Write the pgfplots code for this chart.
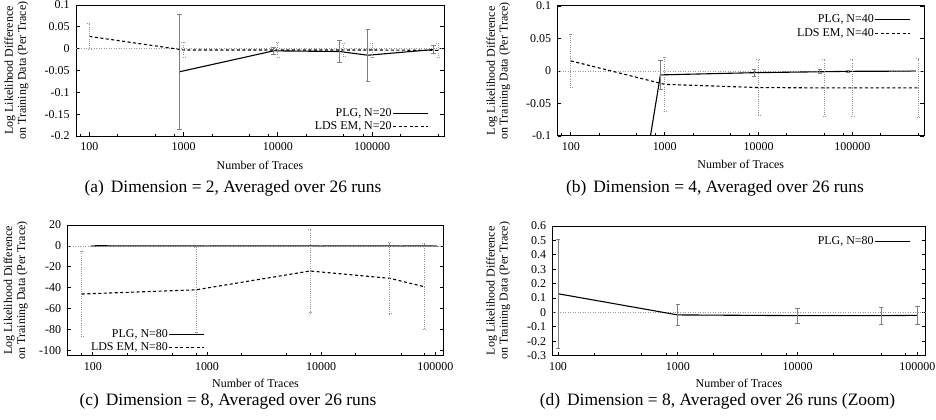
\documentclass[border=0pt]{standalone}
\usepackage{pgfplots}
\pgfplotsset{compat=1.18}
\usepackage{pgfplotstable}
\usepackage{fontspec}
\setmainfont{Liberation Serif}

% Dimension = 2
\pgfplotstableread{
x y e
900 -0.053 0.132
9000 -0.005 0.009
45000 -0.0065 0.0245
90000 -0.015 0.060
450000 -0.002 0.0095
}\plgA
\pgfplotstableread{
x y e
100 0.028 0.030
1000 -0.003 0.0175
10000 -0.003 0.0165
50000 -0.003 0.015
100000 -0.003 0.016
500000 -0.004 0.015
}\ldsA

% Dimension = 4
\pgfplotstableread{
x y e
90 -0.89 0
900 -0.006 0.023
9000 -0.0026 0.0056
45000 -0.0012 0.003
90000 -0.0005 0.0015
450000 -0.0002 0.0008
}\plgB
\pgfplotstableread{
x y e
100 0.0155 0.041
1000 -0.0205 0.042
10000 -0.0255 0.043
50000 -0.026 0.044
100000 -0.026 0.044
500000 -0.026 0.045
}\ldsB

% Dimension = 8
\pgfplotstableread{
x y e
100 0.13 0.38
1000 -0.017 0.070
10000 -0.022 0.053
50000 -0.022 0.058
100000 -0.020 0.063
}\plgC
\pgfplotstableread{
x y e
80 -46 41
800 -42 40.5
8000 -24 40
40000 -31 34
80000 -39 41
}\ldsC

\pgfplotsset{
  every axis/.append style={
    scale only axis,
    font=\fontsize{12}{13}\selectfont,
    xtick={100,1000,10000,100000},
    xticklabels={100,1000,10000,100000},
    xtick pos=left, ytick pos=both,
    tick align=inside,
    major tick length=4bp, minor tick length=2.5bp,
    axis line style={line width=1bp},
    every tick/.append style={black, line width=0.8bp},
    yticklabel style={xshift=-3bp},
    xticklabel style={yshift=-3bp},
    xlabel={Number of Traces},
    ylabel={Log Likelihood Difference\\on Training Data (Per Trace)},
    legend plot pos=right,
    legend cell align=right,
    legend style={draw=none, fill=none, row sep=0pt,
      nodes={inner sep=1bp, text height=8.5bp, text depth=2.5bp}},
  },
  legend image code/.code={\draw[#1] (0bp,0bp) -- (35bp,0bp);},
  ylab/.style={every axis y label/.style={at={(axis description cs:#1,0.5)}, rotate=90, anchor=center, align=center}},
  xlab/.style={every axis x label/.style={at={(axis description cs:0.5,#1)}, anchor=center, inner sep=0pt}},
  zeroline/.style={gray!80, line width=0.8bp, dash pattern=on 1bp off 1.5bp, forget plot},
  plg/.style={black, line width=1.1bp, no markers,
    error bars/y dir=both, error bars/y explicit,
    error bars/error bar style={gray, solid, line width=0.8bp},
    error bars/error mark options={rotate=90, gray, mark size=2.2bp, solid, line width=0.8bp}},
  lds/.style={black, line width=1.1bp, dash pattern=on 3bp off 2.5bp, no markers,
    error bars/y dir=both, error bars/y explicit,
    error bars/error bar style={gray!85, line width=0.8bp, dash pattern=on 1bp off 1.2bp},
    error bars/error mark options={rotate=90, gray!85, mark size=2.2bp, line width=0.8bp, dash pattern=on 1bp off 1.2bp}},
}

\begin{document}
\begin{tikzpicture}
\path[use as bounding box] (0bp,0bp) rectangle (936bp,-420bp);

% (a)
\begin{axis}[xmode=log, at={(76bp,-136bp)}, anchor=south west,
  width=368bp, height=131bp,
  xmin=72, xmax=580000, ymin=-0.2, ymax=0.1,
  ytick={-0.2,-0.15,-0.1,-0.05,0,0.05,0.1},
  yticklabels={-0.2,-0.15,-0.1,-0.05,0,0.05,0.1},
  minor xtick={80,200,500,800,2000,5000,8000,20000,50000,80000,200000,500000},
  ylab=-0.162, xlab=-0.222,
  legend style={at={(axis description cs:0.967,0.235)}, anchor=north east}]
\addplot[zeroline] coordinates {(72,0) (580000,0)};
\addplot[plg] table[x=x, y=y, y error=e] {\plgA};
\addlegendentry{PLG, N=20}
\addplot[lds] table[x=x, y=y, y error=e] {\ldsA};
\addlegendentry{LDS EM, N=20}
\end{axis}

% (b)
\begin{axis}[xmode=log, at={(557.5bp,-136bp)}, anchor=south west,
  width=366.5bp, height=130bp,
  xmin=72, xmax=580000, ymin=-0.1, ymax=0.1,
  ytick={-0.1,-0.05,0,0.05,0.1},
  yticklabels={-0.1,-0.05,0,0.05,0.1},
  minor xtick={80,200,500,800,2000,5000,8000,20000,50000,80000,200000,500000},
  ylab=-0.1615, xlab=-0.218,
  legend style={at={(axis description cs:0.973,0.965)}, anchor=north east,
    row sep=1.5bp}]
\addplot[zeroline] coordinates {(72,0) (580000,0)};
\addplot[plg] table[x=x, y=y, y error=e] {\plgB};
\addlegendentry{PLG, N=40}
\addplot[lds] table[x=x, y=y, y error=e] {\ldsB};
\addlegendentry{LDS EM, N=40}
\end{axis}

% (c)
\begin{axis}[xmode=log, at={(67.5bp,-355.7bp)}, anchor=south west,
  width=376bp, height=130.7bp,
  xmin=60, xmax=118000, ymin=-105, ymax=20,
  ytick={-100,-80,-60,-40,-20,0,20},
  yticklabels={-100,-80,-60,-40,-20,0,20},
  minor xtick={80,200,500,800,2000,5000,8000,20000,50000,80000},
  ylab=-0.1375, xlab=-0.213,
  legend style={at={(axis description cs:0.374,0.232)}, anchor=north east}]
\addplot[zeroline] coordinates {(60,0) (118000,0)};
\addplot[plg] table[x=x, y=y, y error=e] {\plgC};
\addlegendentry{PLG, N=80}
\addplot[lds] table[x=x, y=y, y error=e] {\ldsC};
\addlegendentry{LDS EM, N=80}
\end{axis}

% (d) zoom on PLG
\begin{axis}[xmode=log, at={(552.5bp,-355.7bp)}, anchor=south west,
  width=373bp, height=129.7bp,
  xmin=90, xmax=117000, ymin=-0.3, ymax=0.6,
  ytick={-0.3,-0.2,-0.1,0,0.1,0.2,0.3,0.4,0.5,0.6},
  yticklabels={-0.3,-0.2,-0.1,0,0.1,0.2,0.3,0.4,0.5,0.6},
  minor xtick={200,500,800,2000,5000,8000,20000,50000,80000},
  ylab=-0.1456, xlab=-0.215,
  legend style={at={(axis description cs:0.969,0.95)}, anchor=north east}]
\addplot[zeroline] coordinates {(90,0) (117000,0)};
\addplot[plg] table[x=x, y=y, y error=e] {\plgC};
\addlegendentry{PLG, N=80}
\end{axis}

\begin{scope}[every node/.style={font=\fontsize{17.5}{19}\selectfont, anchor=center, inner sep=0pt}]
\node at (233bp,-188bp) {(a)\hspace{0.4em}Dimension = 2, Averaged over 26 runs};
\node at (715bp,-188bp) {(b)\hspace{0.4em}Dimension = 4, Averaged over 26 runs};
\node at (228bp,-401.5bp) {(c)\hspace{0.4em}Dimension = 8, Averaged over 26 runs};
\node at (717.5bp,-401.5bp) {(d)\hspace{0.4em}Dimension = 8, Averaged over 26 runs (Zoom)};
\end{scope}
\end{tikzpicture}
\end{document}
